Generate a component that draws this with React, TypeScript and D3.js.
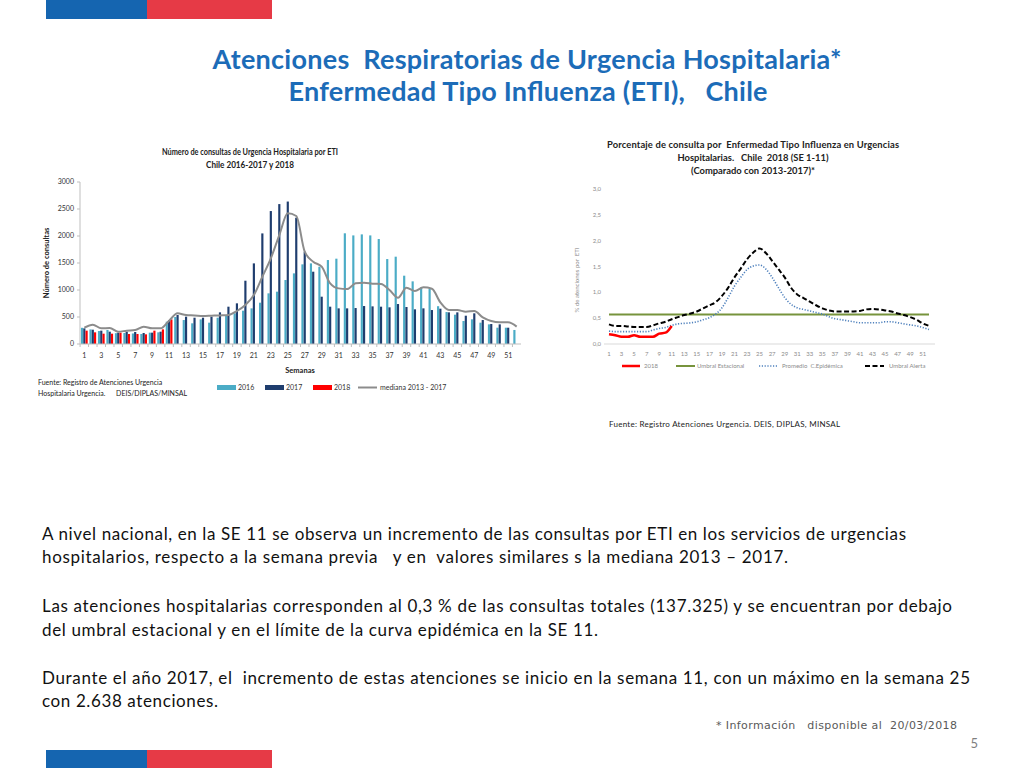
import React from 'react';
import * as d3 from 'd3';

// weeks 1..52
const weeks = d3.range(1, 53);

// Número de consultas de urgencia hospitalaria por ETI
const y2016 = [300, 270, 240, 260, 200, 205, 195, 185, 210, 216, 413, 500, 444, 383, 456, 395, 487, 518, 568, 617, 660, 765, 938, 969, 1185, 1308, 1475, 1493, 1431, 1555, 1580, 2050, 2011, 2030, 2011, 1944, 1573, 1617, 1265, 1160, 1049, 1018, 700, 592, 543, 426, 457, 395, 364, 302, 302, 260];
const y2017 = [290, 265, 247, 228, 210, 228, 222, 204, 210, 228, 444, 537, 506, 487, 487, 506, 586, 691, 753, 1172, 1493, 2048, 2462, 2591, 2638, 2339, 1709, 1339, 876, 691, 660, 660, 666, 703, 697, 691, 679, 740, 685, 642, 660, 629, 654, 586, 586, 524, 568, 444, 370, 364, 302, null];
const y2018 = [247, 216, 191, 191, 210, 185, 185, 179, 247, 271, 456];
const mediana = [302, 358, 290, 296, 228, 247, 259, 321, 290, 290, 432, 568, 537, 530, 518, 524, 530, 537, 611, 722, 907, 1246, 1586, 2018, 2419, 2370, 1709, 1524, 1431, 1123, 1030, 1018, 1123, 1135, 1117, 1110, 1000, 858, 1043, 981, 1049, 1024, 771, 629, 629, 598, 611, 494, 426, 401, 401, 321];
const leftTicks = [0, 500, 1000, 1500, 2000, 2500, 3000];

// Porcentaje de consulta por ETI
const pct2018 = [0.19, 0.17, 0.14, 0.14, 0.17, 0.14, 0.14, 0.14, 0.2, 0.22, 0.35];
const umbralEstacional = weeks.map(() => 0.57);
const promedio = [0.25, 0.24, 0.24, 0.24, 0.24, 0.24, 0.24, 0.27, 0.3, 0.32, 0.36, 0.39, 0.4, 0.41, 0.43, 0.47, 0.51, 0.58, 0.7, 0.9, 1.12, 1.29, 1.44, 1.51, 1.53, 1.45, 1.29, 1.09, 0.9, 0.77, 0.7, 0.67, 0.64, 0.61, 0.58, 0.53, 0.49, 0.47, 0.45, 0.43, 0.41, 0.41, 0.41, 0.41, 0.43, 0.43, 0.41, 0.39, 0.37, 0.35, 0.32, 0.28];
const umbralAlerta = [0.38, 0.35, 0.35, 0.34, 0.33, 0.33, 0.33, 0.36, 0.4, 0.43, 0.48, 0.52, 0.56, 0.59, 0.63, 0.69, 0.75, 0.81, 0.93, 1.09, 1.29, 1.46, 1.64, 1.77, 1.85, 1.76, 1.61, 1.45, 1.29, 1.09, 0.96, 0.89, 0.82, 0.75, 0.69, 0.65, 0.63, 0.63, 0.63, 0.63, 0.64, 0.67, 0.68, 0.67, 0.65, 0.63, 0.59, 0.56, 0.52, 0.47, 0.4, 0.35];
const rightTicks = [0, 0.5, 1, 1.5, 2, 2.5, 3];

const bodyLines = [
  'A nivel nacional, en la SE 11 se observa un incremento de las consultas por ETI en los servicios de urgencias',
  'hospitalarios, respecto a la semana previa   y en  valores similares s la mediana 2013 – 2017.',
  'Las atenciones hospitalarias corresponden al 0,3 % de las consultas totales (137.325) y se encuentran por debajo',
  'del umbral estacional y en el límite de la curva epidémica en la SE 11.',
  'Durante el año 2017, el  incremento de estas atenciones se inicio en la semana 11, con un máximo en la semana 25',
  'con 2.638 atenciones.',
];
const bodyY = [540, 563, 612, 636, 684, 707];
const bodyW = [864, 746, 910, 556, 928, 176];

const C2016 = '#4bacc6';
const C2017 = '#1f3d6e';
const CRED = '#ff0000';
const FONT = 'Lato, "Open Sans", sans-serif';

const LeftChart = () => {
  const x = d3.scaleBand<number>().domain(weeks).range([80, 521]).paddingInner(0.18).paddingOuter(0.1);
  const inner = d3.scaleBand<string>().domain(['2016', '2017', '2018']).range([0, x.bandwidth()]).padding(0.05);
  const y = d3.scaleLinear().domain([0, 3000]).range([344, 182]);
  const cx = (w: number) => (x(w) as number) + x.bandwidth() / 2;
  const line = d3.line<number>().x((_, i) => cx(weeks[i])).y(d => y(d)).curve(d3.curveMonotoneX);
  const series: [string, (number | null)[], string][] = [['2016', y2016, C2016], ['2017', y2017, C2017], ['2018', y2018, CRED]];

  return (
    <g fontFamily={FONT}>
      <text x={250} y={155} textAnchor="middle" fontSize={8.6} fontWeight="bold" fill="#222" textLength={176} lengthAdjust="spacingAndGlyphs">Número de consultas de Urgencia Hospitalaria por ETI</text>
      <text x={250} y={168} textAnchor="middle" fontSize={8.6} fontWeight="bold" fill="#222" textLength={88} lengthAdjust="spacingAndGlyphs">Chile 2016-2017 y 2018</text>
      <line x1={80} x2={80} y1={182} y2={344} stroke="#bfbfbf" />
      {leftTicks.map(t => (
        <g key={t}>
          <line x1={77} x2={80} y1={y(t)} y2={y(t)} stroke="#bfbfbf" />
          <text x={74} y={y(t)} dy="0.35em" textAnchor="end" fontSize={7} fill="#333">{t}</text>
        </g>
      ))}
      <text transform="translate(49,263) rotate(-90)" textAnchor="middle" fontSize={7.5} fontWeight="bold" fill="#222">Número de consultas</text>
      {series.map(([k, vals, col]) =>
        vals.map((v, i) => v == null ? null : (
          <rect key={k + i} x={(x(weeks[i]) as number) + (inner(k) as number)} width={inner.bandwidth()}
            y={y(v)} height={344 - y(v)} fill={col} />
        )))}
      <path d={line(mediana) || ''} fill="none" stroke="#8c8c8c" strokeWidth={2} />
      <line x1={80} x2={521} y1={344} y2={344} stroke="#bfbfbf" />
      {weeks.map(w => (
        <line key={w} x1={(x(w) as number) - x.step() * x.paddingInner() / 2} x2={(x(w) as number) - x.step() * x.paddingInner() / 2} y1={344} y2={347} stroke="#bfbfbf" />
      ))}
      {weeks.filter(w => w % 2 === 1).map(w => (
        <text key={w} x={cx(w)} y={358} textAnchor="middle" fontSize={7} fill="#333">{w}</text>
      ))}
      <text x={300} y={373} textAnchor="middle" fontSize={7.5} fontWeight="bold" fill="#222">Semanas</text>
      <text x={38} y={385} fontSize={7} fill="#222">Fuente: Registro de Atenciones Urgencia</text>
      <text x={38} y={396} fontSize={7} fill="#222" style={{ whiteSpace: 'pre' }}>Hospitalaria Urgencia.      DEIS/DIPLAS/MINSAL</text>
      <rect x={217} y={385} width={19} height={5} fill={C2016} />
      <text x={238} y={390} fontSize={7} fill="#333">2016</text>
      <rect x={265} y={385} width={19} height={5} fill={C2017} />
      <text x={286} y={390} fontSize={7} fill="#333">2017</text>
      <rect x={313} y={385} width={19} height={5} fill={CRED} />
      <text x={334} y={390} fontSize={7} fill="#333">2018</text>
      <line x1={358} x2={377} y1={387.5} y2={387.5} stroke="#8c8c8c" strokeWidth={2} />
      <text x={380} y={390} fontSize={7} fill="#333">mediana 2013 - 2017</text>
    </g>
  );
};

const RightChart = () => {
  const x = d3.scalePoint<number>().domain(weeks).range([609, 929]);
  const y = d3.scaleLinear().domain([0, 3]).range([344, 189]);
  const mk = (vals: number[]) => d3.line<number>().x((_, i) => x(weeks[i]) as number).y(d => y(d)).curve(d3.curveMonotoneX)(vals) || '';
  const fmt = (v: number) => v.toFixed(1).replace('.', ',');

  return (
    <g fontFamily={FONT}>
      <text x={753} y={148} textAnchor="middle" fontSize={9.4} fontWeight="bold" fill="#222" textLength={292} style={{ whiteSpace: 'pre' }}>Porcentaje de consulta por  Enfermedad Tipo Influenza en Urgencias</text>
      <text x={753} y={161} textAnchor="middle" fontSize={9.4} fontWeight="bold" fill="#222" style={{ whiteSpace: 'pre' }}>Hospitalarias.   Chile  2018 (SE 1-11)</text>
      <text x={753} y={174} textAnchor="middle" fontSize={9.4} fontWeight="bold" fill="#222">(Comparado con 2013-2017)*</text>
      {rightTicks.map(t => (
        <text key={t} x={601} y={y(t)} dy="0.35em" textAnchor="end" fontSize={6} fill="#8c8c8c">{fmt(t)}</text>
      ))}
      <text transform="translate(579,280) rotate(-90)" textAnchor="middle" fontSize={6} fill="#8c8c8c" style={{ whiteSpace: 'pre' }}>% de atenciones por  ETI</text>
      <line x1={604} x2={935} y1={344} y2={344} stroke="#d9d9d9" />
      <path d={mk(umbralEstacional)} fill="none" stroke="#77933c" strokeWidth={2} />
      <path d={mk(promedio)} fill="none" stroke="#4f81bd" strokeWidth={1.6} strokeDasharray="1.2 1.6" />
      <path d={mk(umbralAlerta)} fill="none" stroke="#000" strokeWidth={2} strokeDasharray="5 2.5" />
      <path d={mk(pct2018)} fill="none" stroke={CRED} strokeWidth={2.5} />
      {weeks.filter(w => w % 2 === 1).map(w => (
        <text key={w} x={x(w) as number} y={356} textAnchor="middle" fontSize={6} fill="#8c8c8c">{w}</text>
      ))}
      <line x1={622} x2={640} y1={366} y2={366} stroke={CRED} strokeWidth={2.5} />
      <text x={644} y={368} fontSize={6} fill="#8c8c8c">2018</text>
      <line x1={676} x2={695} y1={366} y2={366} stroke="#77933c" strokeWidth={2} />
      <text x={697} y={368} fontSize={6} fill="#8c8c8c">Umbral Estacional</text>
      <line x1={759} x2={778} y1={366} y2={366} stroke="#4f81bd" strokeWidth={1.6} strokeDasharray="1.2 1.6" />
      <text x={782} y={368} fontSize={6} fill="#8c8c8c" style={{ whiteSpace: 'pre' }}>Promedio  C.Epidémica</text>
      <line x1={865} x2={884} y1={366} y2={366} stroke="#000" strokeWidth={2} strokeDasharray="5 2.5" />
      <text x={889} y={368} fontSize={6} fill="#8c8c8c">Umbral Alerta</text>
      <text x={609} y={427} fontSize={8} fill="#222" textLength={231}>Fuente: Registro Atenciones Urgencia. DEIS, DIPLAS, MINSAL</text>
    </g>
  );
};

export default function App() {
  return (
    <svg width={1024} height={768} style={{ position: 'absolute', left: 0, top: 0, background: '#fff' }}>
      <rect x={46} y={0} width={101} height={19} fill="#1565b0" />
      <rect x={147} y={0} width={125} height={19} fill="#e63a46" />
      <rect x={46} y={750} width={101} height={18} fill="#1565b0" />
      <rect x={147} y={750} width={125} height={18} fill="#e63a46" />
      <g fontFamily={FONT} fontWeight="bold" fill="#1c6cb8">
        <text x={527} y={69} textAnchor="middle" fontSize={27} textLength={629} style={{ whiteSpace: 'pre' }}>Atenciones  Respiratorias de Urgencia Hospitalaria*</text>
        <text x={528} y={101} textAnchor="middle" fontSize={27} textLength={479} style={{ whiteSpace: 'pre' }}>Enfermedad Tipo Influenza (ETI),   Chile</text>
      </g>
      <LeftChart />
      <RightChart />
      <g fontFamily={FONT} fontSize={17} fill="#111">
        {bodyLines.map((t, i) => (
          <text key={i} x={42} y={bodyY[i]} textLength={bodyW[i]} style={{ whiteSpace: 'pre' }}>{t}</text>
        ))}
      </g>
      <text x={716} y={729} fontFamily="DejaVu Sans" fontSize={11} fill="#595959" textLength={241} style={{ whiteSpace: 'pre' }}>* Información   disponible al  20/03/2018</text>
      <text x={978} y={748} textAnchor="end" fontFamily={FONT} fontSize={13} fill="#7f7f7f">5</text>
    </svg>
  );
}
